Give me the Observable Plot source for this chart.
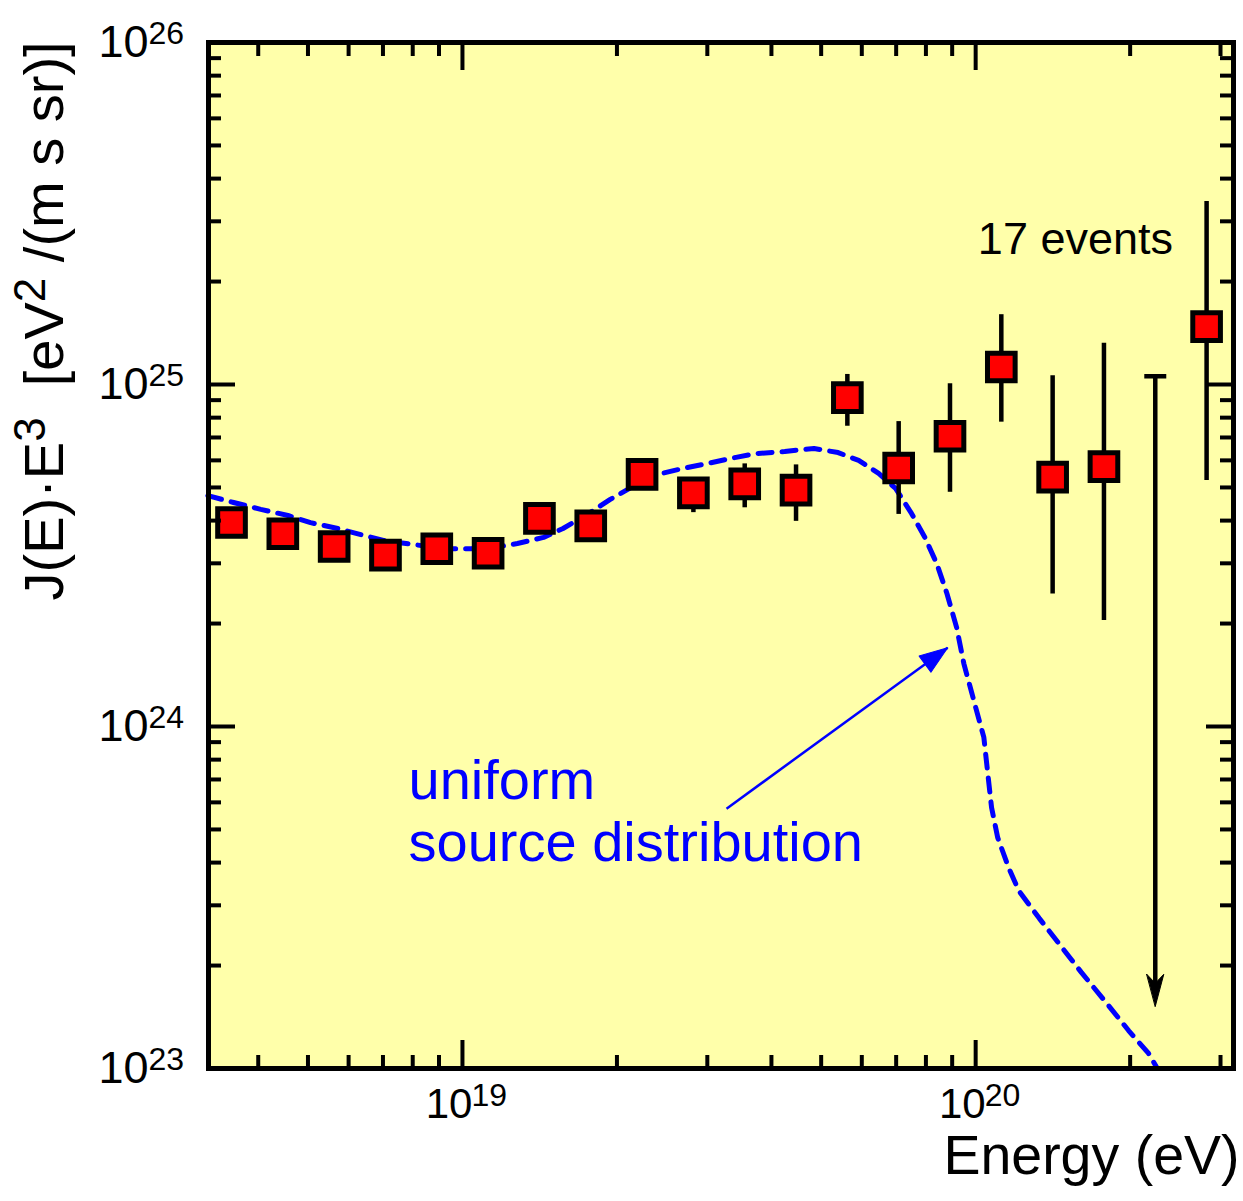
<!DOCTYPE html>
<html>
<head>
<meta charset="utf-8">
<script src="https://cdn.jsdelivr.net/npm/d3@7"></script>
<script src="https://cdn.jsdelivr.net/npm/@observablehq/plot@0.6"></script>
<style>
  body { margin: 0; background: #ffffff; }
  #chart svg { display: block; }
</style>
</head>
<body>
<div id="chart"></div>
<script>
// ---------- data ----------
// bin centres, log10(E / eV)
const pointLogE = [18.55, 18.65, 18.75, 18.85, 18.95, 19.05, 19.15, 19.25, 19.35, 19.45,
                   19.55, 19.65, 19.75, 19.85, 19.95, 20.05, 20.15, 20.25, 20.45];
// J(E)·E^3  [eV^2 /(m^2 s sr)]
const fluxValue = [3.95e24, 3.66e24, 3.36e24, 3.17e24, 3.31e24, 3.21e24, 4.06e24, 3.86e24, 5.46e24, 4.82e24,
                   5.12e24, 4.91e24, 9.15e24, 5.70e24, 7.06e24, 1.125e25, 5.36e24, 5.75e24, 1.476e25];
const fluxHigh  = [null, null, null, null, null, null, null, null, null, 5.3e24,
                   5.86e24, 5.82e24, 1.07e25, 7.79e24, 1.005e25, 1.60e25, 1.06e25, 1.32e25, 3.43e25];
const fluxLow   = [null, null, null, null, null, null, null, null, null, 4.22e24,
                   4.36e24, 3.98e24, 7.55e24, 4.17e24, 4.84e24, 7.76e24, 2.44e24, 2.04e24, 5.24e24];

// upper limit (empty bin)
const limitLogE = [20.35];
const limitFlux = [1.057e25];
const limitShaftEnd = [1.75e23];
const limitTip = [1.52e23];

// model curve: uniform source distribution
const modelLogE = [18.504, 18.554, 18.607, 18.660, 18.704, 18.757, 18.802, 18.846, 18.905, 18.963,
                   19.016, 19.060, 19.107, 19.158, 19.196, 19.243, 19.288, 19.329, 19.389, 19.428,
                   19.477, 19.533, 19.572, 19.628, 19.685, 19.732, 19.772, 19.811, 19.844, 19.875,
                   19.901, 19.924, 19.944, 19.963, 19.977, 20.000, 20.016, 20.023, 20.031, 20.043,
                   20.064, 20.084, 20.124, 20.165, 20.206, 20.259, 20.298, 20.337, 20.354];
const modelLogJ = [24.675, 24.655, 24.635, 24.617, 24.596, 24.579, 24.561, 24.544, 24.532, 24.520,
                   24.520, 24.523, 24.535, 24.553, 24.579, 24.620, 24.664, 24.699, 24.740, 24.754,
                   24.769, 24.787, 24.798, 24.804, 24.813, 24.801, 24.778, 24.740, 24.696, 24.623,
                   24.553, 24.477, 24.389, 24.289, 24.184, 24.056, 23.968, 23.871, 23.763, 23.675,
                   23.588, 23.520, 23.439, 23.360, 23.281, 23.184, 23.111, 23.044, 23.000];

// annotations
const noteText = ["uniform", "source distribution"];
const noteE = [7.85e18, 7.85e18];
const noteJ = [6.93e23, 4.57e23];
const arrowFromE = [3.27e19], arrowFromJ = [5.75e23];
const arrowToE = [8.82e19],   arrowToJ = [1.70e24];
const countText = ["17 events"];
const countE = [1.01e20], countJ = [2.65e25];

// axes
const xDomain = [3.2e18, 3.18e20];
const yDomain = [1e23, 1e26];
const xMajor = [1e19, 1e20];
const xExponent = ["19", "20"];
const xMinor = [4e18, 5e18, 6e18, 7e18, 8e18, 9e18,
                2e19, 3e19, 4e19, 5e19, 6e19, 7e19, 8e19, 9e19,
                2e20, 3e20];
const yMajor = [1e23, 1e24, 1e25, 1e26];
const yExponent = ["23", "24", "25", "26"];
const yInnerMajor = [1e24, 1e25];
const yMinor = [2e23, 3e23, 4e23, 5e23, 6e23, 7e23, 8e23, 9e23,
                2e24, 3e24, 4e24, 5e24, 6e24, 7e24, 8e24, 9e24,
                2e25, 3e25, 4e25, 5e25, 6e25, 7e25, 8e25, 9e25];
const xTitle = "Energy (eV)";
const yTitleParts = [["J(E)·E", false], ["3", true], ["  [eV", false], ["2", true], [" /(m s sr)]", false]];
const yTitle = yTitleParts.map(p => p[0]).join("");

// ---------- layout ----------
const W = 1243, H = 1201;
const M = {left: 208, right: 10, top: 42, bottom: 133};
const plotW = W - M.left - M.right, plotH = H - M.top - M.bottom;
const font = "'Liberation Sans', Arial, Helvetica, sans-serif";

const points = pointLogE.map((e, i) => ({E: 10 ** e, J: fluxValue[i], hi: fluxHigh[i], lo: fluxLow[i]}));
const bars = points.filter(d => d.hi != null && d.lo != null);
const limits = limitLogE.map((e, i) => ({E: 10 ** e, J: limitFlux[i], end: limitShaftEnd[i], tip: limitTip[i]}));
const model = modelLogE.map((e, i) => ({E: 10 ** e, J: 10 ** modelLogJ[i]}));
const notes = noteText.map((t, i) => ({t, E: noteE[i], J: noteJ[i]}));
const pointer = [{x1: arrowFromE[0], y1: arrowFromJ[0], x2: arrowToE[0], y2: arrowToJ[0]}];
const counts = countText.map((t, i) => ({t, E: countE[i], J: countJ[i]}));

// direction of the blue pointer in screen space (same mapping as the plot's scales)
const xs = d3.scaleLog().domain(xDomain).range([M.left, W - M.right]);
const ys = d3.scaleLog().domain(yDomain).range([H - M.bottom, M.top]);
const pointerAngle = Math.atan2(xs(arrowToE[0]) - xs(arrowFromE[0]), -(ys(arrowToJ[0]) - ys(arrowFromJ[0]))) * 180 / Math.PI;

// shapes
const headShape = (halfWidth, notch) => ({
  draw(context, l) {
    context.moveTo(0, -l);
    context.lineTo(-halfWidth, 0);
    context.lineTo(0, -l * notch);
    context.lineTo(halfWidth, 0);
    context.closePath();
  }
});
const capSymbol = {
  draw(context) { context.moveTo(-11, 0); context.lineTo(11, 0); }
};

const chart = Plot.plot({
  width: W, height: H,
  marginLeft: M.left, marginRight: M.right, marginTop: M.top, marginBottom: M.bottom,
  style: {fontFamily: font, background: "#ffffff", overflow: "visible"},
  x: {type: "log", domain: xDomain, axis: null},
  y: {type: "log", domain: yDomain, axis: null},
  marks: [
    Plot.frame({fill: "#ffffaa", stroke: "none"}),
    // model curve
    Plot.line(model, {x: "E", y: "J", stroke: "#0000ff", strokeWidth: 5, strokeDasharray: "14,10"}),
    // pointer arrow
    Plot.link(pointer, {x1: "x1", y1: "y1", x2: "x2", y2: "y2", stroke: "#0000ff", strokeWidth: 2.5}),
    Plot.vector(pointer, {x: "x2", y: "y2", rotate: pointerAngle, length: 28, anchor: "end",
      shape: headShape(10, 0), fill: "#0000ff", stroke: "#0000ff", strokeWidth: 1}),
    // error bars
    Plot.ruleX(bars, {x: "E", y1: "lo", y2: "hi", stroke: "black", strokeWidth: 4.5}),
    // upper limit
    Plot.ruleX(limits, {x: "E", y1: "J", y2: "end", stroke: "black", strokeWidth: 4.5}),
    Plot.dot(limits, {x: "E", y: "J", symbol: capSymbol, r: 5, fill: "none", stroke: "black", strokeWidth: 4.5}),
    Plot.vector(limits, {x: "E", y: "tip", rotate: 180, length: 32, anchor: "end",
      shape: headShape(8.5, 0.28), fill: "black", stroke: "black", strokeWidth: 1}),
    // data points
    Plot.dot(points, {x: "E", y: "J", symbol: "square", r: 15.6, fill: "#ff0000", stroke: "black", strokeWidth: 5}),
    // inward ticks on all four sides
    Plot.tickX(xMinor, {x: d => d, stroke: "black", strokeWidth: 4, insetTop: plotH - 13}),
    Plot.tickX(xMajor, {x: d => d, stroke: "black", strokeWidth: 4, insetTop: plotH - 28}),
    Plot.tickX(xMinor, {x: d => d, stroke: "black", strokeWidth: 4, insetBottom: plotH - 14}),
    Plot.tickX(xMajor, {x: d => d, stroke: "black", strokeWidth: 4, insetBottom: plotH - 28}),
    Plot.tickY(yMinor, {y: d => d, stroke: "black", strokeWidth: 4, insetRight: plotW - 13}),
    Plot.tickY(yInnerMajor, {y: d => d, stroke: "black", strokeWidth: 4, insetRight: plotW - 27}),
    Plot.tickY(yMinor, {y: d => d, stroke: "black", strokeWidth: 4, insetLeft: plotW - 13}),
    Plot.tickY(yInnerMajor, {y: d => d, stroke: "black", strokeWidth: 4, insetLeft: plotW - 27}),
    Plot.frame({stroke: "black", strokeWidth: 5}),
    // tick labels
    Plot.text(yMajor, {y: d => d, text: () => "10", frameAnchor: "left", textAnchor: "end",
      dx: -60, fontSize: 45, fill: "black"}),
    Plot.text(yMajor, {y: d => d, text: (d, i) => yExponent[i], frameAnchor: "left", textAnchor: "start",
      dx: -60, dy: -9, fontSize: 32, fill: "black"}),
    Plot.text(xMajor, {x: d => d, text: () => "10", frameAnchor: "bottom", textAnchor: "end",
      dx: 10, dy: 49, fontSize: 42, fill: "black"}),
    Plot.text(xMajor, {x: d => d, text: (d, i) => xExponent[i], frameAnchor: "bottom", textAnchor: "start",
      dx: 9, dy: 37, fontSize: 32, fill: "black"}),
    // axis titles
    Plot.text([xTitle], {text: d => d, frameAnchor: "bottom-right", textAnchor: "end",
      dx: 6, dy: 105, fontSize: 55.5, fill: "black"}),
    Plot.text([yTitle], {text: d => d, frameAnchor: "left", rotate: -90,
      textAnchor: "start", dx: -163, dy: 45, fontSize: 56, fill: "black"}),
    // annotations
    Plot.text(notes, {x: "E", y: "J", text: "t", textAnchor: "start", fontSize: 56, fill: "#0000ff"}),
    Plot.text(counts, {x: "E", y: "J", text: "t", textAnchor: "start", fontSize: 45, fill: "black"})
  ]
});

// y title with real superscripts
for (const el of chart.querySelectorAll("text")) {
  if (el.textContent !== yTitle) continue;
  while (el.firstChild) el.removeChild(el.firstChild);
  el.setAttribute("xml:space", "preserve");
  el.style.whiteSpace = "pre";
  let raised = false;
  for (const [txt, sup] of yTitleParts) {
    const ts = document.createElementNS("http://www.w3.org/2000/svg", "tspan");
    ts.textContent = txt;
    if (sup) { ts.setAttribute("font-size", "44px"); ts.setAttribute("dy", "-18"); raised = true; }
    else if (raised) { ts.setAttribute("dy", "18"); raised = false; }
    el.appendChild(ts);
  }
}

document.getElementById("chart").appendChild(chart);
</script>
</body>
</html>
